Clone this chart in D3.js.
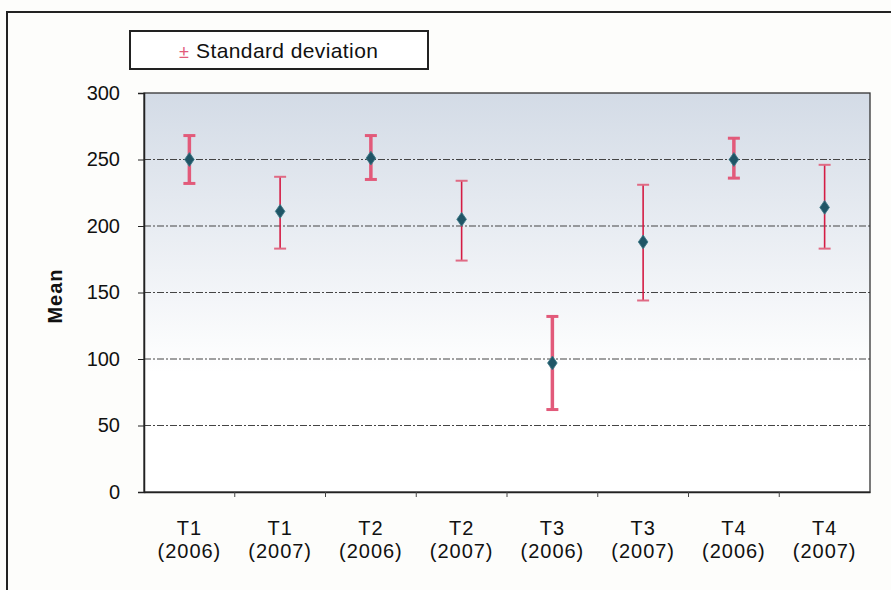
<!DOCTYPE html>
<html><head><meta charset="utf-8">
<script src="https://cdn.jsdelivr.net/npm/d3@7"></script>
<style>body{margin:0;background:#fdfdfb}svg{display:block}</style>
</head><body>
<svg id="c" width="891" height="590"></svg>
<script>
const categories = ["T1|(2006)","T1|(2007)","T2|(2006)","T2|(2007)","T3|(2006)","T3|(2007)","T4|(2006)","T4|(2007)"];
const means = [250, 211, 251, 205, 97, 188, 250, 214];
const upper = [268, 237, 268, 234, 132, 231, 266, 246];
const lower = [232, 183, 235, 174, 62, 144, 236, 183];
const yTicks = [0, 50, 100, 150, 200, 250, 300];

const FONT = "Arial, 'Liberation Sans', sans-serif";
const svg = d3.select("#c");
const m = {l:144, r:870, t:93, b:492};
const x = d3.scaleBand().domain(categories).range([m.l, m.r]);
const y = d3.scaleLinear().domain([0, 300]).range([m.b, m.t]);

// outer frame
svg.append("path").attr("d","M7,600 V12 H900").attr("fill","none").attr("stroke","#222").attr("stroke-width",2);

// background gradient
const defs = svg.append("defs");
const g = defs.append("linearGradient").attr("id","bg").attr("x1",0).attr("y1",0).attr("x2",0).attr("y2",1);
g.append("stop").attr("offset","0%").attr("stop-color","#d3dbe6");
g.append("stop").attr("offset","70%").attr("stop-color","#ffffff");
g.append("stop").attr("offset","100%").attr("stop-color","#ffffff");
svg.append("rect").attr("x",m.l).attr("y",m.t).attr("width",m.r-m.l).attr("height",m.b-m.t).attr("fill","url(#bg)");

// grid
svg.append("g").selectAll("line").data(yTicks.filter(d=>d>0 && d<300)).join("line")
  .attr("x1",m.l).attr("x2",m.r).attr("y1",d=>y(d)).attr("y2",d=>y(d))
  .attr("stroke","#444").attr("stroke-width",1).attr("stroke-dasharray","7,2,2,2");

// plot border
svg.append("rect").attr("x",m.l).attr("y",m.t).attr("width",m.r-m.l).attr("height",m.b-m.t)
  .attr("fill","none").attr("stroke","#333").attr("stroke-width",1.3);

// y axis
const ya = svg.append("g").attr("transform",`translate(${m.l},0)`)
  .call(d3.axisLeft(y).tickValues(yTicks).tickSize(6).tickPadding(18));
ya.select(".domain").attr("stroke","#222").attr("stroke-width",1.5);
ya.selectAll(".tick line").attr("stroke","#222");
ya.selectAll("text").attr("font-family",FONT).attr("font-size",20).attr("fill","#111");

// x axis
const xa = svg.append("g").attr("transform",`translate(0,${m.b})`)
  .call(d3.axisBottom(x).tickSize(0).tickFormat(""));
xa.select(".domain").attr("stroke","#222").attr("stroke-width",1.5);
svg.append("g").selectAll("line").data(categories.slice(1)).join("line")
  .attr("x1",d=>x(d)).attr("x2",d=>x(d)).attr("y1",m.b).attr("y2",m.b+5).attr("stroke","#444");
const lab = svg.append("g").selectAll("text").data(categories).join("text")
  .attr("x",d=>x(d)+x.bandwidth()/2).attr("text-anchor","middle")
  .attr("font-family",FONT).attr("font-size",20).attr("letter-spacing",1).attr("fill","#111");
lab.append("tspan").attr("x",d=>x(d)+x.bandwidth()/2).attr("y",535).text(d=>d.split("|")[0]);
lab.append("tspan").attr("x",d=>x(d)+x.bandwidth()/2).attr("y",558).text(d=>d.split("|")[1]);

// y title
svg.append("text").attr("transform","translate(62,296) rotate(-90)").attr("text-anchor","middle")
  .attr("font-family",FONT).attr("font-size",20).attr("letter-spacing",1).attr("font-weight","bold").attr("fill","#111").text("Mean");

// error bars
const idx = d3.range(categories.length);
const cx = i => x(categories[i]) + x.bandwidth()/2;
const thick = i => categories[i].includes("2006");
const eb = svg.append("g");
eb.selectAll("line.v").data(idx).join("line").attr("class","v")
  .attr("x1",cx).attr("x2",cx).attr("y1",i=>y(upper[i])).attr("y2",i=>y(lower[i]))
  .attr("stroke",i=>thick(i)?"#e25a7a":"#d41c44").attr("stroke-width",i=>thick(i)?3.5:1.6);
["u","l"].forEach(k=>{
  eb.selectAll("line.c"+k).data(idx).join("line").attr("class","c"+k)
    .attr("x1",i=>cx(i)-6).attr("x2",i=>cx(i)+6)
    .attr("y1",i=>y(k==="u"?upper[i]:lower[i])).attr("y2",i=>y(k==="u"?upper[i]:lower[i]))
    .attr("stroke",i=>thick(i)?"#e25a7a":"#e06a84").attr("stroke-width",i=>thick(i)?3:2);
});

// mean markers
svg.append("g").selectAll("path").data(idx).join("path")
  .attr("transform",i=>`translate(${cx(i)},${y(means[i])}) scale(1.2,1)`)
  .attr("d",d3.symbol(d3.symbolDiamond, 55)())
  .attr("fill","#1f5566").attr("stroke","#3d7a88").attr("stroke-width",0.8);

// legend
svg.append("rect").attr("x",130).attr("y",31).attr("width",298).attr("height",38)
  .attr("fill","#fff").attr("stroke","#222").attr("stroke-width",2);
svg.append("text").attr("x",184).attr("y",58).attr("text-anchor","middle")
  .attr("font-family",FONT).attr("font-size",18).attr("fill","#e25a7a").text("±");
svg.append("text").attr("x",196).attr("y",58)
  .attr("font-family",FONT).attr("font-size",21).attr("letter-spacing",0.4).attr("fill","#111").text("Standard deviation");
</script>
</body></html>
